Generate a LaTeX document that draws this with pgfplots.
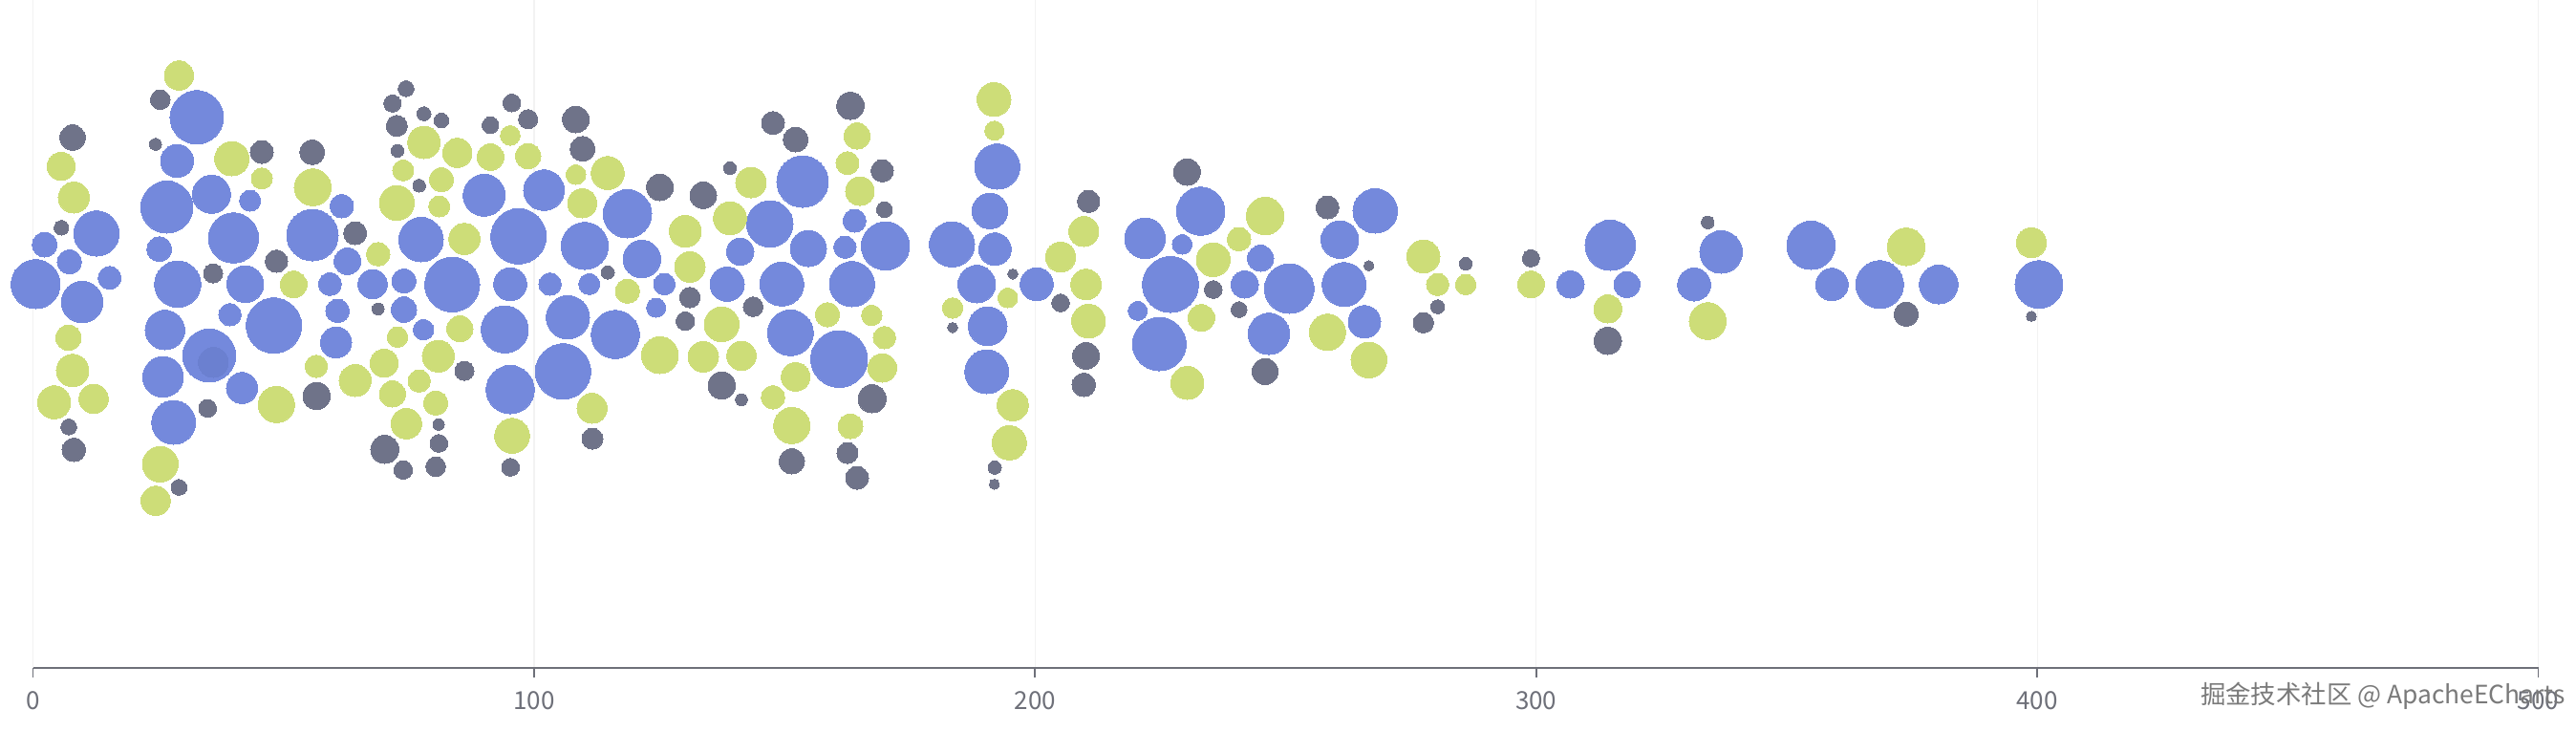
\documentclass[border=0pt]{standalone}
\usepackage{fontspec}
\setmainfont{Noto Sans CJK SC}
\usepackage{pgfplots}
\usepackage{pgfplotstable}
\pgfplotsset{compat=1.18}
\definecolor{cB}{HTML}{7489DC}
\definecolor{cBd}{HTML}{6B80D0}
\definecolor{cG}{HTML}{CDDD78}
\definecolor{cK}{HTML}{6F7389}
\definecolor{axc}{HTML}{6E7079}

\pgfplotstableread{
x y r
2.33 -256.0 13.0
12.68 -244.3 23.7
7.28 -274.0 12.7
0.53 -297.3 25.7
15.29 -290.7 12.0
9.82 -316.0 21.7
32.70 -122.7 28.0
28.76 -168.3 17.3
26.73 -216.7 27.3
35.62 -203.3 20.0
43.33 -210.0 11.0
61.63 -215.7 12.3
25.21 -260.7 13.0
40.01 -249.0 26.3
55.78 -246.0 27.0
28.89 -297.3 24.3
42.37 -297.3 19.3
62.78 -273.3 14.0
59.27 -297.3 12.0
67.79 -297.3 15.3
39.32 -329.3 11.7
48.09 -340.7 29.0
60.79 -325.3 12.3
26.35 -345.3 20.7
35.18 -372.0 27.7
60.49 -358.3 16.3
25.97 -394.3 21.3
41.72 -406.0 16.3
28.07 -442.0 23.0
90.04 -204.3 22.0
101.98 -199.0 21.3
118.65 -223.7 25.3
77.46 -250.7 23.3
96.91 -247.3 29.0
110.12 -257.3 24.7
121.51 -271.0 19.7
141.15 -263.3 14.3
74.03 -294.0 12.7
83.68 -297.7 28.7
95.25 -297.3 17.3
103.20 -297.3 11.7
111.02 -297.3 11.0
126.01 -297.3 11.3
138.54 -297.3 18.0
74.03 -324.0 13.3
77.95 -345.0 10.7
94.16 -344.7 24.7
106.75 -332.0 22.7
116.23 -350.0 25.3
124.37 -322.0 10.0
95.25 -407.7 25.3
105.79 -388.7 29.0
153.60 -190.0 27.0
147.06 -234.3 24.3
163.96 -231.0 12.0
154.75 -260.0 19.0
162.05 -258.7 11.7
170.13 -257.3 25.3
149.46 -297.3 23.0
163.46 -297.3 23.7
151.18 -348.3 24.0
160.90 -375.7 29.7
192.45 -174.3 23.7
190.98 -220.7 18.7
183.41 -255.7 23.7
191.99 -260.7 17.0
188.36 -297.3 19.7
200.32 -297.3 17.3
190.54 -341.3 20.3
190.35 -389.0 23.0
233.06 -221.0 25.3
221.93 -249.3 21.3
229.36 -255.7 10.3
245.00 -270.3 13.7
227.02 -297.7 29.3
241.84 -297.7 14.3
250.72 -302.0 26.0
220.48 -325.3 10.0
224.79 -360.0 28.0
246.66 -349.3 21.7
267.88 -220.7 23.3
260.82 -250.7 19.7
261.66 -297.7 23.0
265.73 -336.7 17.0
306.86 -297.7 14.3
314.79 -256.7 26.3
318.11 -297.7 13.7
336.91 -263.7 22.3
331.52 -297.7 17.3
354.84 -256.7 25.3
359.03 -297.7 17.0
368.57 -297.7 25.0
380.33 -297.7 20.3
400.35 -297.7 25.0
}\blueT

\pgfplotstableread{
x y r
36.00 -379.3 15.7
}\blueDarkT

\pgfplotstableread{
x y r
5.63 -174.0 14.7
8.16 -206.7 16.3
7.09 -353.3 13.3
7.91 -387.7 17.0
4.23 -421.0 17.3
12.11 -417.3 15.3
29.14 -79.0 15.3
39.70 -166.0 18.0
45.67 -186.7 11.0
55.83 -196.0 19.3
52.02 -297.7 14.0
68.88 -266.0 12.3
48.59 -423.3 19.0
56.54 -383.3 11.7
64.30 -398.3 16.7
25.40 -485.7 18.7
24.50 -524.0 15.3
78.03 -149.0 17.0
84.70 -160.0 15.3
73.89 -178.3 11.0
81.52 -188.0 12.7
72.62 -212.3 18.3
81.08 -216.0 11.0
95.25 -141.7 10.3
91.30 -164.3 14.0
98.82 -163.3 13.3
108.35 -182.7 10.3
114.70 -181.0 17.3
109.61 -212.7 15.3
143.30 -191.0 16.0
139.11 -228.3 17.3
86.10 -250.0 16.3
130.20 -242.0 16.7
131.10 -279.3 16.0
118.65 -304.7 12.7
72.75 -352.7 10.7
85.20 -344.0 13.7
137.45 -339.3 18.3
70.08 -380.0 14.7
80.89 -372.7 16.7
125.13 -371.7 19.3
133.77 -373.3 16.0
141.40 -372.3 15.3
71.74 -412.3 13.7
77.08 -398.7 11.7
80.38 -421.7 12.7
74.52 -443.3 16.0
111.59 -427.3 15.7
95.63 -456.0 18.3
164.47 -142.3 13.7
162.56 -170.7 12.0
165.04 -200.0 15.0
158.56 -329.3 12.7
167.39 -330.0 10.7
169.94 -353.3 11.7
152.21 -394.3 15.0
169.49 -385.0 15.0
147.69 -415.7 12.3
151.45 -445.3 19.0
163.14 -446.0 13.0
191.80 -104.0 17.7
191.87 -136.7 10.0
194.54 -311.7 10.3
183.54 -322.3 10.7
195.55 -424.0 16.3
194.85 -463.3 18.0
209.72 -242.3 15.7
205.09 -269.0 15.7
210.18 -297.7 16.0
210.67 -336.0 17.7
245.90 -226.0 19.7
240.69 -250.3 12.3
235.55 -271.7 17.7
233.18 -332.7 14.0
230.39 -400.7 17.3
258.35 -347.7 19.0
266.62 -376.7 18.7
277.50 -268.3 17.3
280.35 -297.7 11.7
285.94 -297.7 10.7
298.97 -297.7 14.0
314.30 -323.3 14.7
334.24 -336.0 19.3
373.85 -258.3 19.7
398.83 -254.0 15.7
}\greenT

\pgfplotstableread{
x y r
7.91 -144.0 13.3
5.68 -238.3 7.7
7.15 -446.7 8.3
8.16 -470.7 12.3
25.40 -104.3 10.3
24.45 -151.0 6.3
45.67 -159.0 12.0
55.72 -159.3 13.0
64.30 -244.0 12.0
48.59 -273.3 11.7
35.95 -286.0 10.0
68.88 -323.3 6.3
56.60 -414.3 14.3
34.86 -427.3 9.3
29.14 -510.0 8.3
74.46 -92.7 8.3
71.74 -108.3 9.0
78.03 -119.0 7.3
81.52 -126.0 7.7
72.62 -131.7 11.0
72.75 -157.7 6.7
77.08 -194.3 6.7
95.57 -107.7 9.3
98.82 -124.7 10.0
91.30 -131.0 8.7
108.35 -125.0 14.0
109.69 -155.7 13.0
125.13 -196.0 14.0
133.77 -204.3 14.0
139.11 -176.0 6.7
114.70 -285.0 7.0
131.10 -311.3 10.7
130.20 -336.0 9.7
143.74 -321.0 10.3
86.10 -388.0 10.0
137.45 -403.3 14.3
141.40 -418.3 6.3
80.95 -444.3 6.0
81.01 -464.0 9.3
70.21 -470.3 14.7
111.65 -459.0 11.0
73.89 -491.7 9.7
80.38 -488.3 10.3
95.31 -489.0 9.3
147.69 -128.7 12.0
152.21 -146.0 13.0
163.14 -110.7 14.3
169.49 -178.7 11.7
169.94 -219.3 8.3
167.47 -417.3 14.7
151.45 -482.7 13.3
162.56 -474.0 11.0
164.47 -500.0 12.0
195.55 -286.7 5.3
183.54 -342.7 5.3
191.93 -489.3 7.0
191.87 -506.7 5.3
210.67 -210.7 11.7
205.09 -317.0 9.3
210.18 -372.3 14.0
209.72 -402.7 12.3
230.32 -180.0 14.0
235.55 -303.0 9.3
240.69 -324.0 8.3
245.90 -388.7 13.7
258.35 -217.0 12.0
266.62 -278.0 5.3
280.35 -321.0 7.3
277.50 -337.7 10.7
285.94 -276.0 6.7
298.97 -270.3 9.0
314.30 -356.7 14.3
334.24 -232.7 6.7
373.85 -328.7 12.7
398.83 -331.0 5.3
}\grayT

\begin{document}
\begin{tikzpicture}
\begin{axis}[
  scale only axis,
  width=655.5pt, height=174.75pt,
  xmin=0, xmax=500, ymin=-699, ymax=0,
  clip=false,
  axis x line*=bottom,
  axis y line=none,
  xtick={0,100,200,300,400,500},
  tick align=outside,
  major tick length=2.5pt,
  x axis line style={draw=axc, line width=0.45pt},
  xtick style={draw=axc, line width=0.45pt},
  xticklabel style={font=\fontsize{6.5}{7}\selectfont, text=axc},
  /pgf/number format/assume math mode=true,
  xmajorgrids,
  grid style={draw=black!5, line width=0.3pt},
  bubble/.style={scatter, only marks, mark=*,
     point meta=\thisrow{r},
     visualization depends on={0.25*\thisrow{r} \as \rad},
     scatter/@pre marker code/.code={\scope[mark size=\rad pt, fill=#1, draw=#1, line width=0pt]},
     scatter/@post marker code/.code={\endscope}},
]
\addplot[bubble=cB] table[x=x, y=y] {\blueT};
\addplot[bubble=cBd] table[x=x, y=y] {\blueDarkT};
\addplot[bubble=cG] table[x=x, y=y] {\greenT};
\addplot[bubble=cK] table[x=x, y=y] {\grayT};
\node[font=\fontsize{6.6}{7}\selectfont, text=black!52, inner sep=0pt] at (axis cs:469.0,-728) {掘金技术社区 @ ApacheECharts};
\coordinate (BL) at (axis cs:-6.579,-764);
\coordinate (TR) at (axis cs:507.53,0);
\end{axis}
\pgfresetboundingbox
\useasboundingbox (BL) rectangle (TR);
\end{tikzpicture}
\end{document}
